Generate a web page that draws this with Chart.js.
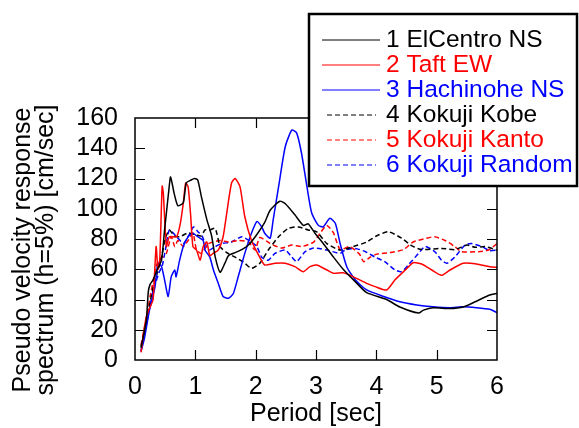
<!DOCTYPE html>
<html>
<head>
<meta charset="utf-8">
<script src="https://cdn.jsdelivr.net/npm/chart.js@4.4.1/dist/chart.umd.min.js"></script>
<style>
  html, body { margin: 0; padding: 0; background: #fff; }
  #wrap { width: 579px; height: 428px; position: relative; }
</style>
</head>
<body>
<div id="wrap"><canvas id="c" width="579" height="428"></canvas></div>
<script>
// Pseudo velocity response spectra (h = 5%), period [sec] vs velocity [cm/sec]
const seriesNames = ['1 ElCentro NS', '2 Taft EW', '3 Hachinohe NS', '4 Kokuji Kobe', '5 Kokuji Kanto', '6 Kokuji Random'];

const elCentroT = [0.10,0.13,0.16,0.19,0.22,0.25,0.30,0.37,0.44,0.49,0.52,0.56,0.59,0.65,0.71,0.80,0.85,0.93,0.99,1.04,1.10,1.19,1.27,1.33,1.41,1.49,1.55,1.66,1.77,1.88,2.02,2.15,2.24,2.40,2.50,2.65,2.79,2.87,2.98,3.12,3.29,3.45,3.67,3.84,4.17,4.39,4.70,4.78,4.94,5.22,5.44,5.64,5.88,6.00];
const elCentroV = [8,14,20,27,45,50,53,60,66,86,97,112,121,110,102,104,117,119,120,119,108,93,82,68,58,64,69,71,73,76,83,91,99,105,103,96,89,90,84,77,68,60,51,44.5,40,35,31,33,34.6,34,35,38.5,43,44];

const taftT = [0.10,0.15,0.19,0.25,0.30,0.35,0.38,0.41,0.45,0.47,0.52,0.57,0.69,0.75,0.80,0.84,0.88,0.92,0.96,1.02,1.08,1.13,1.19,1.24,1.30,1.38,1.46,1.52,1.60,1.66,1.74,1.82,1.93,2.04,2.15,2.32,2.49,2.65,2.79,2.90,3.01,3.18,3.29,3.45,3.62,3.84,3.98,4.17,4.31,4.48,4.61,4.75,4.92,5.08,5.22,5.44,5.66,5.88,6.00];
const taftV = [5,20,29,35,40,75,60,66,115,110,75,81.5,81.5,90,103.6,117,114.6,97,75,72.7,66,75,78,69,70.6,72.7,81.5,97,117,120,114.6,94.7,79,70,62.8,64,64,61.7,58.4,61.7,62.8,59.5,57.3,57.7,55,50.7,48.5,46.3,53,59.5,64.3,63.5,59.5,56,59.5,64,63.5,61.7,61.3];

const hachinoheT = [0.10,0.16,0.24,0.33,0.38,0.44,0.49,0.55,0.60,0.66,0.68,0.74,0.80,0.88,0.96,1.04,1.13,1.16,1.24,1.30,1.38,1.46,1.55,1.63,1.71,1.82,1.93,2.02,2.10,2.15,2.24,2.29,2.38,2.49,2.60,2.68,2.76,2.85,2.93,3.04,3.12,3.23,3.32,3.40,3.51,3.65,3.84,4.12,4.39,4.67,4.94,5.22,5.44,5.66,5.88,6.00];
const hachinoheV = [5.5,15,33,48,64,61.7,53,42,55,59.5,55,66,75,81.5,83.8,81.5,79,72.7,68,59.5,50.7,42,40.8,44,55,70.5,83.8,91.5,88,83.8,80.5,92.6,114.6,141,152,150,136.7,114.6,97,89,88,93.7,90.4,77,61.7,53,46.3,42,38.5,36.4,35.2,34.6,35.2,34.6,33.5,31.3];

const kobeT = [0.10,0.15,0.20,0.25,0.30,0.35,0.40,0.45,0.50,0.57,0.65,0.74,0.88,1.02,1.10,1.16,1.24,1.33,1.41,1.52,1.66,1.82,1.93,2.07,2.21,2.38,2.54,2.71,2.87,3.01,3.18,3.40,3.62,3.84,4.00,4.20,4.42,4.59,4.75,5.08,5.30,5.50,5.64,5.80,6.00];
const kobeV = [9,18,28,38,48,55,62,70,80,86,82,81.5,84,82.6,82,86,86,87,75,71,68,64,60.6,64,72.7,81.5,87,88,86,84.8,77,72.7,75,78,82,84.8,80.5,75.4,73,73.8,73,76,74.5,75,72.7];

const kantoT = [0.10,0.15,0.20,0.25,0.30,0.35,0.40,0.45,0.52,0.60,0.66,0.71,0.80,0.88,0.96,1.02,1.10,1.22,1.41,1.55,1.71,1.88,1.99,2.07,2.24,2.43,2.60,2.76,2.96,3.07,3.18,3.29,3.40,3.56,3.72,3.79,3.90,4.01,4.23,4.45,4.61,4.83,4.97,5.14,5.30,5.41,5.69,5.86,6.00];
const kantoV = [10,20,30,42,52,62,66,68,70.5,81.5,75,79,75,79,84,72.7,70.5,77,79,78,79,78,72.7,81,77,74,76,75,78,84,89,84,73,75,70,65,68,70,71,73,78,80.5,81.5,79,75,71.6,71.6,72.7,77];

const randomT = [0.10,0.15,0.20,0.25,0.30,0.35,0.40,0.45,0.50,0.57,0.69,0.80,0.88,0.97,1.04,1.11,1.22,1.33,1.44,1.60,1.77,1.93,2.02,2.10,2.21,2.32,2.49,2.60,2.68,2.82,2.96,3.18,3.40,3.48,3.65,3.82,3.98,4.14,4.31,4.42,4.53,4.70,4.81,4.97,5.08,5.17,5.30,5.47,5.58,5.75,5.88,6.00];
const randomV = [6,16,26,36,46,52,58,62,72,86,81.5,77,81.5,88,85,82,72.7,75,77,78,81.5,78,75,68,66,70.5,72.7,68,65,71.6,74,72.7,70.5,72.7,73.8,71.6,68,65,59.5,58.4,62.8,70.5,75,71.6,66,64,68,76,77,75,72.3,72.7];

const xTicks = [0, 1, 2, 3, 4, 5, 6];
const yTicks = [0, 20, 40, 60, 80, 100, 120, 140, 160];
const xTitle = 'Period [sec]';
const yTitle = ['Pseudo velocity response', 'spectrum (h=5%) [cm/sec]'];

const FONT = "'Liberation Sans', Arial, sans-serif";
const colors = ['#000000', '#ff0000', '#0000ff', '#000000', '#ff0000', '#0000ff'];
const dashed = [false, false, false, true, true, true];
const sources = [[elCentroT, elCentroV], [taftT, taftV], [hachinoheT, hachinoheV],
                 [kobeT, kobeV], [kantoT, kantoV], [randomT, randomV]];

function points(t, v) { return t.map((x, i) => ({ x: x, y: v[i] })); }

const datasets = sources.map((s, i) => ({
  label: seriesNames[i],
  data: points(s[0], s[1]),
  borderColor: colors[i],
  borderWidth: 1.5,
  borderDash: dashed[i] ? [5, 3] : [],
  pointRadius: 0,
  tension: 0.2,
  fill: false
}));

// Box frame with inward tick marks on all four sides, plus axis titles
const framePlugin = {
  id: 'frame',
  afterDatasetsDraw(chart) {
    const { ctx, chartArea: a, scales } = chart;
    const len = 10;
    ctx.save();
    ctx.strokeStyle = '#000';
    ctx.lineWidth = 1.5;
    ctx.strokeRect(a.left, a.top, a.right - a.left, a.bottom - a.top);
    ctx.lineWidth = 1.2;
    ctx.beginPath();
    xTicks.slice(1, -1).forEach(v => {
      const px = Math.round(scales.x.getPixelForValue(v)) + 0.5;
      ctx.moveTo(px, a.bottom); ctx.lineTo(px, a.bottom - len);
      ctx.moveTo(px, a.top); ctx.lineTo(px, a.top + len);
    });
    yTicks.slice(1, -1).forEach(v => {
      const py = Math.round(scales.y.getPixelForValue(v)) + 0.5;
      ctx.moveTo(a.left, py); ctx.lineTo(a.left + len, py);
      ctx.moveTo(a.right, py); ctx.lineTo(a.right - len, py);
    });
    ctx.stroke();

    ctx.fillStyle = '#000';
    ctx.font = '25px ' + FONT;
    ctx.textAlign = 'center';
    ctx.textBaseline = 'middle';
    ctx.fillText(xTitle, (a.left + a.right) / 2, 414);

    ctx.translate(0, 250);
    ctx.rotate(-Math.PI / 2);
    ctx.textBaseline = 'alphabetic';
    ctx.fillText(yTitle[0], 0, 30);
    ctx.fillText(yTitle[1], 0, 53);
    ctx.restore();
  },
  afterDraw(chart) {
    // legend box drawn over the upper right of the plot
    const { ctx } = chart;
    ctx.save();
    ctx.fillStyle = '#fff';
    ctx.fillRect(309, 14, 268, 172);
    ctx.strokeStyle = '#000';
    ctx.lineWidth = 2.5;
    ctx.strokeRect(309, 14, 268, 172);
    ctx.font = '24.5px ' + FONT;
    ctx.textAlign = 'left';
    ctx.textBaseline = 'middle';
    chart.data.datasets.forEach((ds, i) => {
      const y = 39.5 + i * 25;
      ctx.strokeStyle = ds.borderColor;
      ctx.lineWidth = 1;
      ctx.setLineDash(ds.borderDash);
      ctx.beginPath();
      if (ds.borderDash.length) { ctx.moveTo(327, y + 0.5); ctx.lineTo(376, y + 0.5); }
      else { ctx.moveTo(322, y + 0.5); ctx.lineTo(380, y + 0.5); }
      ctx.stroke();
      ctx.setLineDash([]);
      ctx.fillStyle = ds.borderColor;
      ctx.fillText(ds.label, 386, y + 1);
    });
    ctx.restore();
  }
};

new Chart(document.getElementById('c'), {
  type: 'line',
  data: { datasets: datasets },
  options: {
    responsive: false,
    animation: false,
    layout: { padding: { left: 0, top: 118, right: 82, bottom: 0 } },
    plugins: { legend: { display: false }, tooltip: { enabled: false } },
    scales: {
      x: {
        type: 'linear', min: 0, max: 6,
        afterBuildTicks: s => { s.ticks = xTicks.map(v => ({ value: v })); },
        afterFit: s => { s.height = 68; },
        grid: { display: false, drawTicks: false },
        border: { display: false },
        ticks: { color: '#000', font: { size: 25, family: FONT }, padding: 12, maxRotation: 0, autoSkip: false }
      },
      y: {
        type: 'linear', min: 0, max: 160,
        afterBuildTicks: s => { s.ticks = yTicks.map(v => ({ value: v })); },
        afterFit: s => { s.width = 135; },
        grid: { display: false, drawTicks: false },
        border: { display: false },
        ticks: { color: '#000', font: { size: 25, family: FONT }, padding: 17, autoSkip: false }
      }
    }
  },
  plugins: [framePlugin]
});
</script>
</body>
</html>
